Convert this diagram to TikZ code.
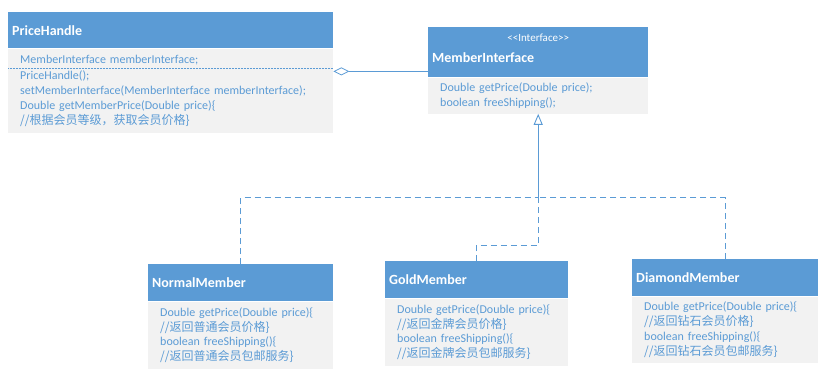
\documentclass[tikz,border=0pt]{standalone}
\usepackage{fontspec}
\setmainfont{Carlito}
\newfontfamily\cjk{Noto Sans CJK SC}
\usetikzlibrary{arrows.meta}
\definecolor{cHead}{HTML}{5B9BD5}
\definecolor{cBody}{HTML}{F2F2F2}
\definecolor{cText}{HTML}{5B9BD5}
\definecolor{cLine}{HTML}{5B9BD5}
\newcommand\zh[1]{{\cjk\fontsize{12}{14}\selectfont #1}}

\begin{document}
\begin{tikzpicture}[
  x=1pt, y=-1pt,
  font=\fontsize{12}{14.8}\selectfont,
  hd/.style 2 args={fill=cHead, text=white, anchor=north west, inner xsep=4pt,
                    inner ysep=0pt, text width=#1-8pt, minimum height=#2, align=left,
                    font=\fontsize{14}{16}\selectfont\bfseries},
  bd/.style 2 args={fill=cBody, text=cText, anchor=north west, inner xsep=12pt,
                    inner ysep=0pt, text width=#1-24pt, minimum height=#2, align=left},
  agg/.style={{Diamond[open,length=16pt,width=8pt]}-, draw=cLine, line width=.8pt},
  real/.style={-{Triangle[open,length=11pt,width=9pt]}, draw=cLine, line width=.9pt},
  impl/.style={draw=cLine, line width=.9pt, dash pattern=on 6pt off 4pt},
  sep/.style={draw=cLine, line width=.5pt, densely dotted},
]
\useasboundingbox (0,0) rectangle (823,388);

% ---------------- PriceHandle ----------------
\node[hd={325pt}{36pt}] (phHead) at (8,12) {PriceHandle};
\node[bd={325pt}{84pt}] (phBody) at (phHead.south west)
  {MemberInterface memberInterface;\\[2pt]
   PriceHandle();\\
   setMemberInterface(MemberInterface memberInterface);\\
   Double getMemberPrice(Double price)\{\\
   \zh{//根据会员等级，获取会员价格\}}};
\draw[sep] ([yshift=-20pt]phBody.north west) -- ([yshift=-20pt]phBody.north east);

% ---------------- MemberInterface ----------------
\node[hd={220pt}{50pt}] (miHead) at (428,27)
  {\makebox[212pt]{\fontsize{11}{12}\selectfont\mdseries <{}<Interface>{}>}\\[5pt]
   MemberInterface\rule[-8pt]{0pt}{8pt}};
\node[bd={220pt}{36pt}] (miBody) at (miHead.south west)
  {Double getPrice(Double price);\\
   boolean freeShipping();};

\draw[agg] ([yshift=-23pt]phBody.north east) -- ([yshift=6pt]miHead.south west);

% ---------------- members ----------------
\node[hd={185pt}{37pt}] (normHead) at (148,264) {NormalMember};
\node[bd={185pt}{67pt}] (normBody) at (normHead.south west)
  {Double getPrice(Double price)\{\\
   \zh{//返回普通会员价格\}}\\
   boolean freeShipping()\{\\
   \zh{//返回普通会员包邮服务\}}};

\node[hd={183pt}{37pt}] (goldHead) at (385,261) {GoldMember};
\node[bd={183pt}{67pt}] (goldBody) at (goldHead.south west)
  {Double getPrice(Double price)\{\\
   \zh{//返回金牌会员价格\}}\\
   boolean freeShipping()\{\\
   \zh{//返回金牌会员包邮服务\}}};

\node[hd={186pt}{37pt}] (diaHead) at (632,259) {DiamondMember};
\node[bd={186pt}{66pt}] (diaBody) at (diaHead.south west)
  {Double getPrice(Double price)\{\\
   \zh{//返回钻石会员价格\}}\\
   boolean freeShipping()\{\\
   \zh{//返回钻石会员包邮服务\}}};

% ---------------- realization ----------------
\coordinate (jn) at ([yshift=-84pt]miBody.south);
\draw[real] (jn) -- (miBody.south);
\draw[impl] (normHead.north) |- (jn);
\draw[impl] (goldHead.north) -- ++(0,-16) -| (jn);
\draw[impl] (diaHead.north) |- (jn);

\end{tikzpicture}
\end{document}
